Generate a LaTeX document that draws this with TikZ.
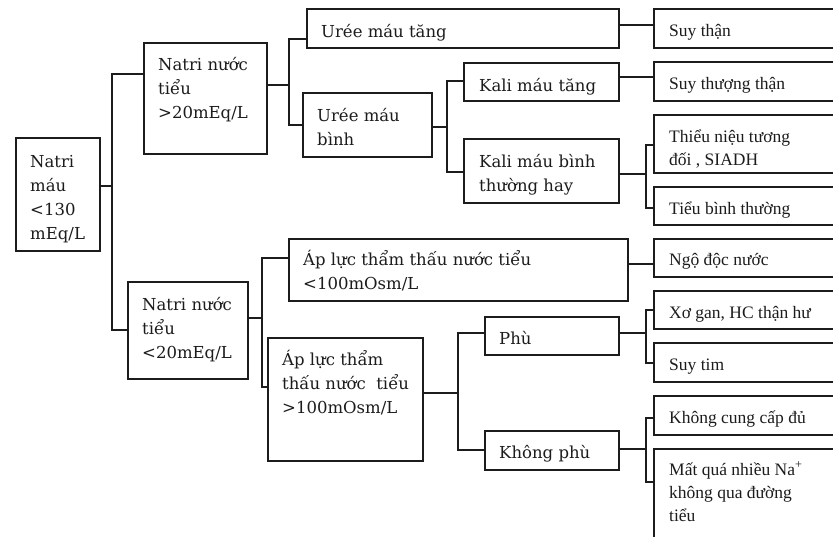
\documentclass[tikz,border=0pt]{standalone}
\usepackage{fontspec}
\setmainfont{DejaVu Serif}
\newfontfamily\rfont{Liberation Serif}
\usetikzlibrary{calc}
\definecolor{ink}{HTML}{1C1C1C}
\newcommand\boxtext[1]{\begin{tabular}[t]{@{}l@{}}#1\end{tabular}}
% fork: parent, stub offset, bus x, child A, offset A, child B, offset B
\newcommand\forkto[7]{%
  \coordinate (#1-s) at ([yshift=-#2pt]#1.north east);
  \coordinate (#1-bus) at (#3,0);
  \coordinate (#4-e) at ([yshift=-#5pt]#4.north west);
  \coordinate (#6-e) at ([yshift=-#7pt]#6.north west);
  \draw[wire] (#1-s) -- (#1-s -| #1-bus);
  \draw[wire] (#4-e) -| (#6-e -| #1-bus) -- (#6-e);
}
\tikzset{
  box/.style={draw=ink, line width=1.6pt, inner sep=0pt, outer sep=0pt, anchor=north west},
  lbl/.style={anchor=base west, inner sep=0pt, text=ink, font=\fontsize{16.5}{24}\selectfont},
  rlbl/.style={anchor=base west, inner sep=0pt, text=ink, font=\rfont\fontsize{17.5}{23}\selectfont},
  wire/.style={draw=ink, line width=1.6pt},
}
\begin{document}
\begin{tikzpicture}[x=1pt,y=-1pt]
\useasboundingbox (0,0) rectangle (833,536);
\clip (0,0) rectangle (833,536);
\fill[white] (0,0) rectangle (833,536);

% boxes
\node[box, minimum width=84pt,  minimum height=113pt] (root) at (16,138) {};
\node[box, minimum width=123pt, minimum height=111pt] (n1) at (144,43) {};
\node[box, minimum width=120pt, minimum height=97pt]  (n2) at (128,282) {};
\node[box, minimum width=312pt, minimum height=39pt]  (u1) at (307,9) {};
\node[box, minimum width=129pt, minimum height=64pt]  (u2) at (303,93) {};
\node[box, minimum width=155pt, minimum height=38pt]  (k1) at (464,63) {};
\node[box, minimum width=155pt, minimum height=64pt]  (k2) at (464,139) {};
\node[box, minimum width=339pt, minimum height=62pt]  (a1) at (289,239) {};
\node[box, minimum width=155pt, minimum height=123pt] (a2) at (268,338) {};
\node[box, minimum width=134pt, minimum height=38pt]  (p1) at (485,317) {};
\node[box, minimum width=134pt, minimum height=39pt]  (p2) at (485,431) {};
\node[box, minimum width=190pt, minimum height=39pt]  (r1) at (654,9) {};
\node[box, minimum width=190pt, minimum height=39pt]  (r2) at (654,62) {};
\node[box, minimum width=190pt, minimum height=58pt]  (r3) at (654,115) {};
\node[box, minimum width=190pt, minimum height=38pt]  (r4) at (654,187) {};
\node[box, minimum width=190pt, minimum height=38pt]  (r5) at (654,239) {};
\node[box, minimum width=190pt, minimum height=38pt]  (r6) at (654,291) {};
\node[box, minimum width=190pt, minimum height=39pt]  (r7) at (654,343) {};
\node[box, minimum width=190pt, minimum height=39pt]  (r8) at (654,396) {};
\node[box, minimum width=190pt, minimum height=100pt] (r9) at (654,449) {};

% labels
\node[lbl] (t-root) at ([xshift=14pt,yshift=-29pt]root.north west) {\boxtext{Natri\\máu\\<130\\mEq/L}};
\node[lbl] (t-n1) at ([xshift=14pt,yshift=-27pt]n1.north west) {\boxtext{Natri nước\\tiểu\\>20mEq/L}};
\node[lbl] (t-n2) at ([xshift=14pt,yshift=-28pt]n2.north west) {\boxtext{Natri nước\\tiểu\\<20mEq/L}};
\node[lbl] (t-u1) at ([xshift=14pt,yshift=-28pt]u1.north west) {Urée máu tăng};
\node[lbl] (t-u2) at ([xshift=14pt,yshift=-28pt]u2.north west) {\boxtext{Urée máu\\bình}};
\node[lbl] (t-k1) at ([xshift=15pt,yshift=-28pt]k1.north west) {Kali máu tăng};
\node[lbl] (t-k2) at ([xshift=15pt,yshift=-28pt]k2.north west) {\boxtext{Kali máu bình\\thường hay}};
\node[lbl] (t-a1) at ([xshift=14pt,yshift=-26pt]a1.north west) {\boxtext{Áp lực thẩm thấu nước tiểu\\<100mOsm/L}};
\node[lbl] (t-a2) at ([xshift=14pt,yshift=-27pt]a2.north west) {\boxtext{Áp lực thẩm\\thấu nước\ \ tiểu\\>100mOsm/L}};
\node[lbl] (t-p1) at ([xshift=14pt,yshift=-27pt]p1.north west) {Phù};
\node[lbl] (t-p2) at ([xshift=14pt,yshift=-27pt]p2.north west) {Không phù};
\node[rlbl] (t-r1) at ([xshift=15pt,yshift=-27pt]r1.north west) {Suy thận};
\node[rlbl] (t-r2) at ([xshift=15pt,yshift=-27pt]r2.north west) {Suy thượng thận};
\node[rlbl] (t-r3) at ([xshift=15pt,yshift=-27pt]r3.north west) {\boxtext{Thiểu niệu tương\\đối , SIADH}};
\node[rlbl] (t-r4) at ([xshift=15pt,yshift=-27pt]r4.north west) {Tiểu bình thường};
\node[rlbl] (t-r5) at ([xshift=15pt,yshift=-26pt]r5.north west) {Ngộ độc nước};
\node[rlbl] (t-r6) at ([xshift=15pt,yshift=-27pt]r6.north west) {Xơ gan, HC thận hư};
\node[rlbl] (t-r7) at ([xshift=15pt,yshift=-27pt]r7.north west) {Suy tim};
\node[rlbl] (t-r8) at ([xshift=15pt,yshift=-27pt]r8.north west) {Không cung cấp đủ};
\node[rlbl] (t-r9) at ([xshift=15pt,yshift=-26pt]r9.north west) {\boxtext{Mất quá nhiều Na\textsuperscript{+}\\không qua đường\\tiểu}};

% forks
\forkto{root}{48}{112}{n1}{31}{n2}{48}
\forkto{n1}{42}{289}{u1}{30}{u2}{32}
\forkto{u2}{34}{447}{k1}{18}{k2}{33}
\forkto{k2}{35}{646}{r3}{30}{r4}{21}
\forkto{n2}{36}{262}{a1}{19}{a2}{49}
\forkto{a2}{55}{458}{p1}{16}{p2}{19}
\forkto{p1}{16}{646}{r6}{19}{r7}{20}
\forkto{p2}{18}{646}{r8}{22}{r9}{33}

% direct links
\coordinate (u1-o) at ([yshift=-16pt]u1.north east);
\draw[wire] (u1-o) -- (u1-o -| r1.west);
\coordinate (k1-o) at ([yshift=-14pt]k1.north east);
\draw[wire] (k1-o) -- (k1-o -| r2.west);
\coordinate (a1-o) at ([yshift=-25pt]a1.north east);
\draw[wire] (a1-o) -- (a1-o -| r5.west);
\end{tikzpicture}
\end{document}
